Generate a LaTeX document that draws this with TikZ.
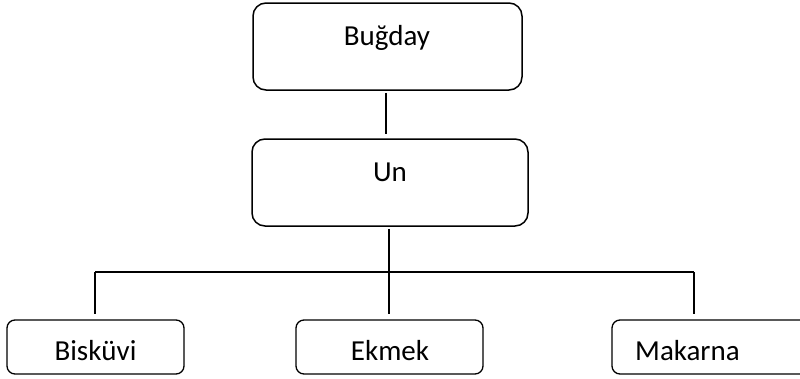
\documentclass[tikz,border=0pt]{standalone}
\usepackage{fontspec}
\setmainfont{Carlito}
\begin{document}
\begin{tikzpicture}[x=1pt,y=-1pt,
  bigbox/.style={draw=black,line width=1.5pt,rounded corners=13pt,inner sep=0pt},
  smallbox/.style={draw=black,line width=1.3pt,rounded corners=8pt,inner sep=0pt},
  label/.style={anchor=base,inner sep=0pt,font=\fontsize{29}{34}\selectfont},
  link/.style={draw=black,line width=1.3pt}]
\useasboundingbox (0,0) rectangle (800,378);
\clip (0,0) rectangle (800,378);
% boxes
\node[bigbox,minimum width=269pt,minimum height=87pt] (bugday) at (387.5,46.5) {};
\node[bigbox,minimum width=276pt,minimum height=87pt] (un) at (390,182.5) {};
\node[smallbox,minimum width=177pt,minimum height=54pt] (biskuvi) at (95.5,347) {};
\node[smallbox,minimum width=187pt,minimum height=54pt] (ekmek) at (389.5,347) {};
\node[smallbox,minimum width=200pt,minimum height=54pt] (makarna) at (712,347) {};
% texts
\node[label] (tbugday) at (387,45) {Buğday};
\node[label] (tun) at (390,181) {Un};
\node[label] (tbiskuvi) at (95.5,360) {Bisküvi};
\node[label] (tekmek) at (390,360) {Ekmek};
\node[label,anchor=base west] (tmakarna) at (635,360) {Makarna};
% connectors
\coordinate (hl) at (95,272);
\coordinate (hr) at (694,272);
\draw[link,shorten <=2pt,shorten >=4pt] ([xshift=-1.5pt]bugday.south) -- ([xshift=-4pt]un.north);
\draw[link,shorten <=2pt,shorten >=5pt] ([xshift=-1pt]un.south) -- ([xshift=-0.5pt]ekmek.north);
\draw[link] (hl) -- (hr);
\draw[link,shorten >=5pt] (hl) -- (hl |- biskuvi.north);
\draw[link,shorten >=5pt] (hr) -- (hr |- makarna.north);
\end{tikzpicture}
\end{document}
